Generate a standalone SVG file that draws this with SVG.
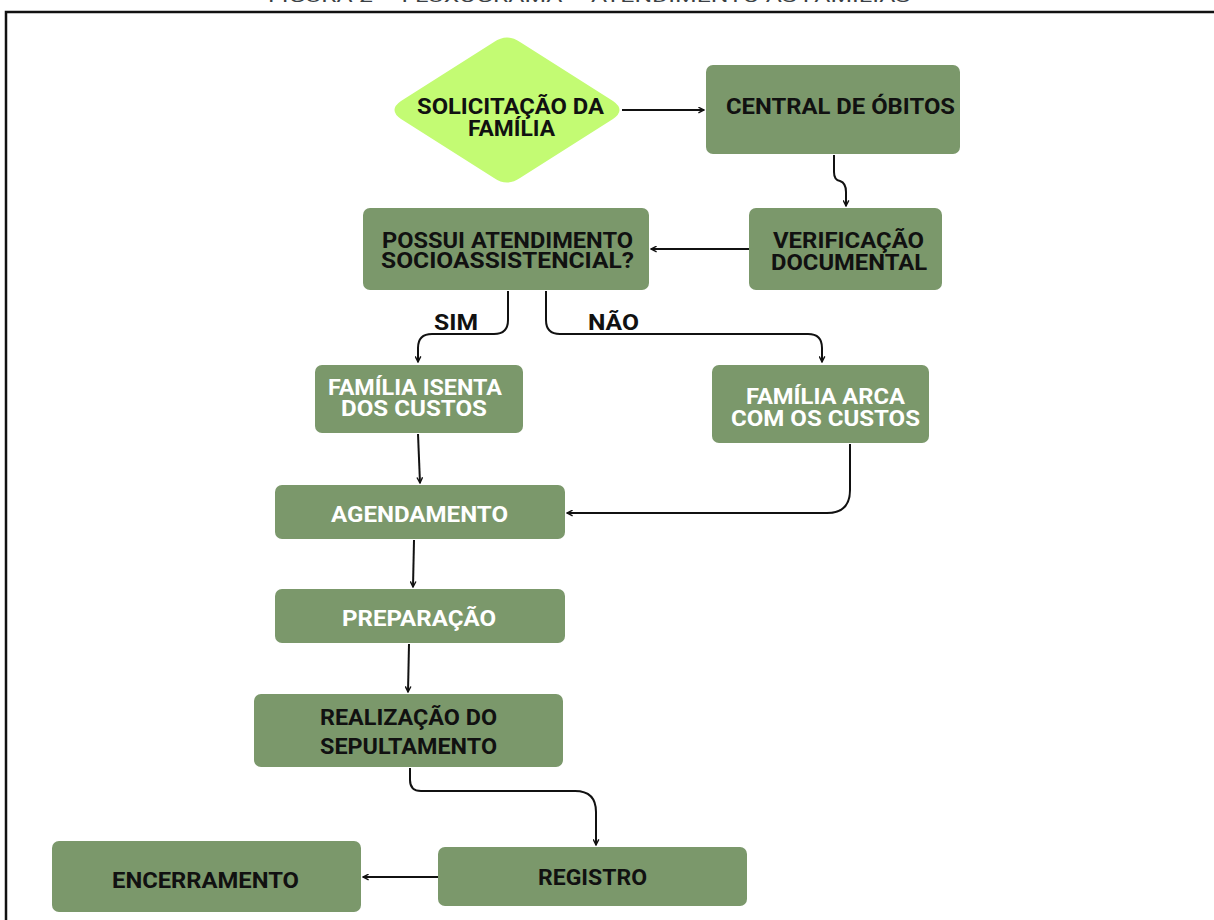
<svg xmlns="http://www.w3.org/2000/svg" width="1214" height="920" viewBox="0 0 1214 920">
<defs>
<style>
.box{fill:#7b986b;}
.t{font-family:Roboto,"Liberation Sans",sans-serif;font-weight:700;font-size:22px;text-anchor:middle;}
.dk{fill:#111;}
.wh{fill:#fff;}
.c{fill:none;stroke:#111;stroke-width:2;marker-end:url(#ah);}
</style>
<marker id="ah" viewBox="0 0 10 10" refX="9" refY="5" markerWidth="7" markerHeight="7" orient="auto" markerUnits="userSpaceOnUse">
<path d="M1,1 L9,5 L1,9" fill="none" stroke="#111" stroke-width="2"/>
</marker>
</defs>
<rect width="1214" height="920" fill="#fff"/>
<text x="589" y="2" font-family="Roboto,'Liberation Sans',sans-serif" font-size="16" fill="#3a3f44" text-anchor="middle" textLength="642" lengthAdjust="spacingAndGlyphs">FIGURA 2 – FLUXOGRAMA – ATENDIMENTO ÀS FAMÍLIAS</text>
<path d="M6,920 V12 H1214" fill="none" stroke="#111" stroke-width="2.5"/>

<g id="connectors">
<path class="c" d="M622,110 H704"/>
<path class="c" d="M834,155 V172 Q834,180 840,181 Q846,183 846,192 V206"/>
<path class="c" d="M749,249 H651"/>
<path class="c" d="M508,291 V320 Q508,334 494,334 H432 Q418,334 418,348 V362"/>
<path class="c" d="M546,291 V320 Q546,334 560,334 H808 Q822,334 822,348 V362"/>
<path class="c" d="M418,434 L420,483"/>
<path class="c" d="M850,444 V490 Q850,513 827,513 H567"/>
<path class="c" d="M414,540 L413,587"/>
<path class="c" d="M409,644 L408,692"/>
<path class="c" d="M410,768 V780 Q410,791 421,791 H575 Q596,791 596,812 V845"/>
<path class="c" d="M438,877 H363"/>
</g>

<g id="n1">
<path d="M494,42 Q507,33 520,42 L613,101 Q626,110 613,119 L520,178 Q507,187 494,178 L401,119 Q388,110 401,101 Z" fill="#c3fb73"/>
<text class="t dk" x="510.5" y="114" textLength="187" lengthAdjust="spacingAndGlyphs">SOLICITAÇÃO DA</text>
<text class="t dk" x="511.5" y="136" textLength="87" lengthAdjust="spacingAndGlyphs">FAMÍLIA</text>
</g>
<g id="n2">
<rect class="box" x="706" y="65" width="254" height="89" rx="7"/>
<text class="t dk" x="840.5" y="114" textLength="229" lengthAdjust="spacingAndGlyphs">CENTRAL DE ÓBITOS</text>
</g>
<g id="n3">
<rect class="box" x="749" y="208" width="193" height="82" rx="7"/>
<text class="t dk" x="848.5" y="248" textLength="151" lengthAdjust="spacingAndGlyphs">VERIFICAÇÃO</text>
<text class="t dk" x="849" y="270" textLength="156" lengthAdjust="spacingAndGlyphs">DOCUMENTAL</text>
</g>
<g id="n4">
<rect class="box" x="363" y="208" width="286" height="82" rx="7"/>
<text class="t dk" x="507.5" y="248" textLength="251" lengthAdjust="spacingAndGlyphs">POSSUI ATENDIMENTO</text>
<text class="t dk" x="507.5" y="268" textLength="253" lengthAdjust="spacingAndGlyphs">SOCIOASSISTENCIAL?</text>
</g>
<text class="t dk" x="456" y="330" textLength="44" lengthAdjust="spacingAndGlyphs">SIM</text>
<text class="t dk" x="613.5" y="330" textLength="51" lengthAdjust="spacingAndGlyphs">NÃO</text>
<g id="n5">
<rect class="box" x="315" y="365" width="208" height="68" rx="7"/>
<text class="t wh" x="415" y="395" textLength="174" lengthAdjust="spacingAndGlyphs">FAMÍLIA ISENTA</text>
<text class="t wh" x="414" y="416" textLength="146" lengthAdjust="spacingAndGlyphs">DOS CUSTOS</text>
</g>
<g id="n6">
<rect class="box" x="712" y="365" width="217" height="78" rx="7"/>
<text class="t wh" x="825.5" y="404" textLength="159" lengthAdjust="spacingAndGlyphs">FAMÍLIA ARCA</text>
<text class="t wh" x="825.5" y="426" textLength="189" lengthAdjust="spacingAndGlyphs">COM OS CUSTOS</text>
</g>
<g id="n7">
<rect class="box" x="275" y="485" width="290" height="54" rx="7"/>
<text class="t wh" x="419.5" y="522" textLength="177" lengthAdjust="spacingAndGlyphs">AGENDAMENTO</text>
</g>
<g id="n8">
<rect class="box" x="275" y="589" width="290" height="54" rx="7"/>
<text class="t wh" x="419" y="626" textLength="154" lengthAdjust="spacingAndGlyphs">PREPARAÇÃO</text>
</g>
<g id="n9">
<rect class="box" x="254" y="694" width="309" height="73" rx="7"/>
<text class="t dk" x="408.5" y="725" textLength="177" lengthAdjust="spacingAndGlyphs">REALIZAÇÃO DO</text>
<text class="t dk" x="408.5" y="754" textLength="177" lengthAdjust="spacingAndGlyphs">SEPULTAMENTO</text>
</g>
<g id="n10">
<rect class="box" x="438" y="847" width="309" height="59" rx="7"/>
<text class="t dk" x="592.5" y="885" textLength="109" lengthAdjust="spacingAndGlyphs">REGISTRO</text>
</g>
<g id="n11">
<rect class="box" x="52" y="841" width="309" height="71" rx="7"/>
<text class="t dk" x="205.5" y="888" textLength="187" lengthAdjust="spacingAndGlyphs">ENCERRAMENTO</text>
</g>
</svg>
